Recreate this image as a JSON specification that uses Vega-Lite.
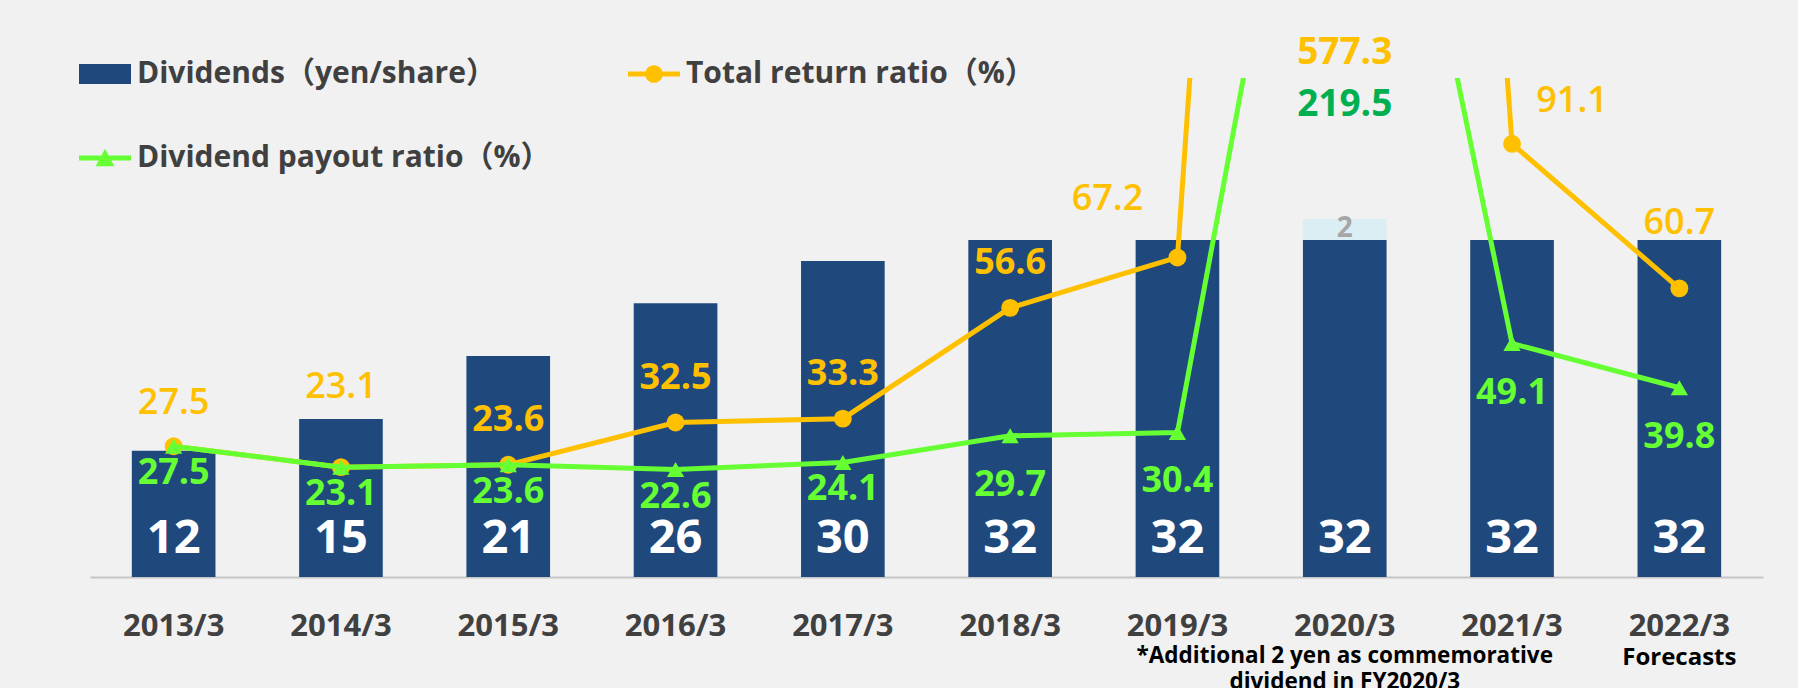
{
  "$schema": "https://vega.github.io/schema/vega-lite/v6.json",
  "width": 1798,
  "height": 499,
  "autosize": {"type": "none"},
  "padding": {"left": 0, "top": 78, "right": 0, "bottom": 111},
  "background": "#f1f1f1",
  "config": {
    "view": {"stroke": null},
    "font": "Open Sans, Noto Sans CJK JP",
    "text": {"font": "Open Sans, Noto Sans CJK JP"}
  },
  "data": {
    "values": [
      {"year": "2013/3", "dividend": 12, "total_return": 27.5, "payout": 27.5},
      {"year": "2014/3", "dividend": 15, "total_return": 23.1, "payout": 23.1},
      {"year": "2015/3", "dividend": 21, "total_return": 23.6, "payout": 23.6},
      {"year": "2016/3", "dividend": 26, "total_return": 32.5, "payout": 22.6},
      {"year": "2017/3", "dividend": 30, "total_return": 33.3, "payout": 24.1},
      {"year": "2018/3", "dividend": 32, "total_return": 56.6, "payout": 29.7},
      {"year": "2019/3", "dividend": 32, "total_return": 67.2, "payout": 30.4},
      {"year": "2020/3", "dividend": 32, "extra": 2, "total_return": 577.3, "payout": 219.5, "note": "*Additional 2 yen as commemorative\ndividend in FY2020/3"},
      {"year": "2021/3", "dividend": 32, "total_return": 91.1, "payout": 49.1},
      {"year": "2022/3", "dividend": 32, "total_return": 60.7, "payout": 39.8, "forecast": "Forecasts"}
    ]
  },
  "encoding": {
    "x": {
      "field": "year",
      "type": "nominal",
      "sort": null,
      "scale": {"range": [90, 1763], "paddingInner": 0.5, "paddingOuter": 0.25},
      "axis": {
        "title": null,
        "labelAngle": 0,
        "ticks": false,
        "tickSize": 0,
        "grid": false,
        "domainColor": "#c6c6c6",
        "domainWidth": 2,
        "labelFont": "Open Sans, Noto Sans CJK JP",
        "labelFontSize": 31,
        "labelFontWeight": "bold",
        "labelColor": "#404040",
        "labelBaseline": "alphabetic",
        "labelPadding": 58,
        "labelOverlap": false
      }
    }
  },
  "layer": [
    {
      "layer": [
        {
          "transform": [
            {"fold": ["dividend", "extra"], "as": ["part", "amount"]},
            {"filter": "datum.amount > 0"}
          ],
          "mark": {"type": "bar"},
          "encoding": {
            "y": {"field": "amount", "type": "quantitative", "stack": "zero", "scale": {"domain": [0, 47.39], "nice": false}, "axis": null},
            "detail": {"field": "part"},
            "order": {"field": "part", "sort": "ascending"},
            "color": {
              "datum": "Dividends（yen/share）",
              "condition": {"test": "datum.part === 'extra'", "value": "#DAEEF3"},
              "scale": {
                "domain": ["Dividends（yen/share）", "Total return ratio（%）", "Dividend payout ratio（%）"],
                "range": ["#1F497D", "#FFC000", "#66FF33"]
              },
              "legend": {
                "orient": "none",
                "legendX": 79,
                "legendY": -30,
                "columns": 2,
                "title": null,
                "padding": 0,
                "values": ["Dividends（yen/share）", "Dividend payout ratio（%）", "Total return ratio（%）"],
                "labelFont": "Open Sans, Noto Sans CJK JP",
                "labelFontSize": 30,
                "labelFontWeight": "bold",
                "labelColor": "#404040",
                "labelLimit": 700,
                "labelOffset": 6,
                "symbolSize": 2704,
                "columnPadding": 77,
                "rowPadding": 43,
                "encode": {
                  "symbols": {
                    "update": {
                      "shape": {"signal": "datum.value === 'Dividends（yen/share）' ? 'M-1,-0.385H1V0.385H-1Z' : datum.value === 'Total return ratio（%）' ? 'M-1,-0.096H1V0.096H-1Z M-0.34,0A0.34,0.34 0 1,1 0.34,0A0.34,0.34 0 1,1 -0.34,0Z' : 'M-1,-0.096H1V0.096H-1Z M0,-0.36L0.36,0.32L-0.36,0.32Z'"},
                      "fill": {"scale": "color", "field": "value"},
                      "stroke": {"value": "transparent"},
                      "strokeWidth": {"value": 0},
                      "opacity": {"value": 1},
                      "fillOpacity": {"value": 1}
                    }
                  }
                }
              }
            }
          }
        },
        {
          "mark": {"type": "text", "baseline": "alphabetic", "dy": -24, "fontSize": 47, "fontWeight": "bold", "color": "white"},
          "encoding": {
            "y": {"datum": 0, "type": "quantitative"},
            "text": {"field": "dividend", "type": "quantitative"}
          }
        },
        {
          "transform": [{"filter": "datum.extra > 0"}],
          "mark": {"type": "text", "baseline": "middle", "dy": -11, "fontSize": 28, "fontWeight": "bold", "color": "#a6a6a6"},
          "encoding": {
            "y": {"field": "dividend", "type": "quantitative"},
            "text": {"field": "extra", "type": "quantitative"}
          }
        },
        {
          "transform": [{"filter": "datum.note != null"}],
          "mark": {"type": "text", "baseline": "alphabetic", "dy": 86, "fontSize": 22.5, "fontWeight": "bold", "color": "#000000", "lineBreak": "\n", "lineHeight": 26},
          "encoding": {
            "y": {"datum": 0, "type": "quantitative"},
            "text": {"field": "note"}
          }
        },
        {
          "transform": [{"filter": "datum.forecast != null"}],
          "mark": {"type": "text", "baseline": "alphabetic", "dy": 88, "fontSize": 24, "fontWeight": "bold", "color": "#000000"},
          "encoding": {
            "y": {"datum": 0, "type": "quantitative"},
            "text": {"field": "forecast"}
          }
        }
      ]
    },
    {
      "encoding": {
        "y": {"type": "quantitative", "scale": {"domain": [0, 104.94], "nice": false, "zero": false}, "axis": null}
      },
      "layer": [
        {
          "mark": {"type": "line", "strokeWidth": 5, "clip": true},
          "encoding": {
            "y": {"field": "total_return", "type": "quantitative"},
            "color": {"datum": "Total return ratio（%）"}
          }
        },
        {
          "mark": {"type": "point", "filled": true, "shape": "circle", "size": 320, "opacity": 1, "clip": true},
          "encoding": {
            "y": {"field": "total_return", "type": "quantitative"},
            "color": {"datum": "Total return ratio（%）"}
          }
        },
        {
          "mark": {"type": "line", "strokeWidth": 5, "clip": true},
          "encoding": {
            "y": {"field": "payout", "type": "quantitative"},
            "color": {"datum": "Dividend payout ratio（%）"}
          }
        },
        {
          "mark": {"type": "point", "filled": true, "shape": "triangle-up", "size": 300, "opacity": 1, "clip": true},
          "encoding": {
            "y": {"field": "payout", "type": "quantitative"},
            "color": {"datum": "Dividend payout ratio（%）"}
          }
        },
        {
          "transform": [{"filter": {"field": "year", "oneOf": ["2013/3"]}}],
          "mark": {"type": "text", "baseline": "middle", "dy": -43, "fontSize": 36, "fontWeight": 600, "color": "#FFC000"},
          "encoding": {
            "y": {"field": "total_return", "type": "quantitative"},
            "text": {"field": "total_return", "type": "quantitative", "format": ".1f"}
          }
        },
        {
          "transform": [{"filter": {"field": "year", "oneOf": ["2014/3"]}}],
          "mark": {"type": "text", "baseline": "middle", "dy": -80, "fontSize": 36, "fontWeight": 600, "color": "#FFC000"},
          "encoding": {
            "y": {"field": "total_return", "type": "quantitative"},
            "text": {"field": "total_return", "type": "quantitative", "format": ".1f"}
          }
        },
        {
          "transform": [{"filter": {"field": "year", "oneOf": ["2015/3", "2016/3", "2017/3", "2018/3"]}}],
          "mark": {"type": "text", "baseline": "middle", "dy": -44.5, "fontSize": 36, "fontWeight": "bold", "color": "#FFC000"},
          "encoding": {
            "y": {"field": "total_return", "type": "quantitative"},
            "text": {"field": "total_return", "type": "quantitative", "format": ".1f"}
          }
        },
        {
          "transform": [{"filter": {"field": "year", "oneOf": ["2019/3"]}}],
          "mark": {"type": "text", "baseline": "middle", "dx": -70, "dy": -58, "fontSize": 36, "fontWeight": 600, "color": "#FFC000"},
          "encoding": {
            "y": {"field": "total_return", "type": "quantitative"},
            "text": {"field": "total_return", "type": "quantitative", "format": ".1f"}
          }
        },
        {
          "transform": [{"filter": {"field": "year", "oneOf": ["2021/3"]}}],
          "mark": {"type": "text", "baseline": "middle", "dx": 60, "dy": -43, "fontSize": 36, "fontWeight": 600, "color": "#FFC000"},
          "encoding": {
            "y": {"field": "total_return", "type": "quantitative"},
            "text": {"field": "total_return", "type": "quantitative", "format": ".1f"}
          }
        },
        {
          "transform": [{"filter": {"field": "year", "oneOf": ["2022/3"]}}],
          "mark": {"type": "text", "baseline": "middle", "dy": -65, "fontSize": 36, "fontWeight": 600, "color": "#FFC000"},
          "encoding": {
            "y": {"field": "total_return", "type": "quantitative"},
            "text": {"field": "total_return", "type": "quantitative", "format": ".1f"}
          }
        },
        {
          "transform": [{"filter": {"field": "year", "oneOf": ["2013/3", "2014/3", "2015/3", "2016/3", "2017/3"]}}],
          "mark": {"type": "text", "baseline": "middle", "dy": 27, "fontSize": 36, "fontWeight": "bold", "color": "#66FF33"},
          "encoding": {
            "y": {"field": "payout", "type": "quantitative"},
            "text": {"field": "payout", "type": "quantitative", "format": ".1f"}
          }
        },
        {
          "transform": [{"filter": {"field": "year", "oneOf": ["2018/3", "2019/3", "2021/3", "2022/3"]}}],
          "mark": {"type": "text", "baseline": "middle", "dy": 49, "fontSize": 36, "fontWeight": "bold", "color": "#66FF33"},
          "encoding": {
            "y": {"field": "payout", "type": "quantitative"},
            "text": {"field": "payout", "type": "quantitative", "format": ".1f"}
          }
        }
      ]
    },
    {
      "transform": [{"filter": "datum.extra > 0"}],
      "encoding": {
        "y": {"type": "quantitative", "scale": {"domain": [0, 104.94], "nice": false, "zero": false, "clamp": true}, "axis": null}
      },
      "layer": [
        {
          "mark": {"type": "text", "baseline": "middle", "dy": -25, "fontSize": 37, "fontWeight": "bold", "color": "#FFC000"},
          "encoding": {
            "y": {"field": "total_return", "type": "quantitative"},
            "text": {"field": "total_return", "type": "quantitative", "format": ".1f"}
          }
        },
        {
          "mark": {"type": "text", "baseline": "middle", "dy": 27, "fontSize": 37, "fontWeight": "bold", "color": "#00B050"},
          "encoding": {
            "y": {"field": "payout", "type": "quantitative"},
            "text": {"field": "payout", "type": "quantitative", "format": ".1f"}
          }
        }
      ]
    }
  ],
  "resolve": {"scale": {"y": "independent"}}
}
